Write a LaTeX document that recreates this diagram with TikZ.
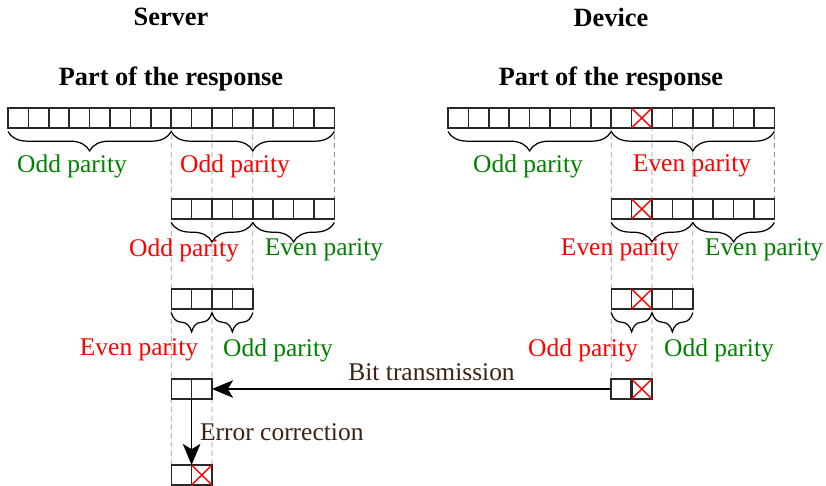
\documentclass[tikz,border=0pt]{standalone}
\usepackage{fontspec}
\setmainfont{Liberation Serif}
\usetikzlibrary{arrows.meta, decorations.pathreplacing, backgrounds}
\definecolor{parityGreen}{RGB}{0, 128, 0}
\definecolor{parityRed}{RGB}{255, 0, 0}
\definecolor{cellBorder}{RGB}{40, 40, 40}
\definecolor{guideGray}{RGB}{150, 150, 150}
\definecolor{noteBrown}{RGB}{59, 35, 20}

\begin{document}
\begin{tikzpicture}[
    x=0.02cm, y=-0.02cm,
    % Node styles
    cell/.style={
        rectangle,
        draw=cellBorder,
        line width=0.8pt,
        minimum width=0.408cm,
        minimum height=0.4cm,
        inner sep=0pt,
        outer sep=0pt
    },
    title/.style={
        font=\fontsize{15}{18}\selectfont\bfseries,
        text=black
    },
    parity/.style={
        font=\fontsize{14.5}{17}\selectfont
    },
    good/.style={parity, text=parityGreen},
    bad/.style={parity, text=parityRed},
    note/.style={
        font=\fontsize{14.5}{17}\selectfont,
        text=noteBrown
    },
    % Path styles
    cross/.style={
        draw=parityRed,
        line width=0.8pt
    },
    bracket/.style={
        decorate,
        decoration={brace, mirror, amplitude=11pt},
        line width=0.7pt
    },
    guide/.style={
        draw=guideGray,
        line width=0.5pt,
        dash pattern=on 3pt off 2pt
    },
    transfer/.style={
        -{Stealth[length=12pt, width=10pt, inset=3pt]},
        line width=1pt,
        color=black
    }
]

\useasboundingbox (0,0) rectangle (826,485);

% Titles
\node[title] (srvTitle) at (171,17) {Server};
\node[title] (devTitle) at (611,17) {Device};
\node[title] (srvPart) at (171,79) {Part of the response};
\node[title] (devPart) at (611,79) {Part of the response};

% Full responses
\foreach \i in {0,...,15} {
    \node[cell] (sa\i) at ({8+20.4*(\i+0.5)},118) {};
    \node[cell] (da\i) at ({448+20.4*(\i+0.5)},118) {};
}

% Halves
\foreach \i in {0,...,7} {
    \node[cell] (sb\i) at ({171.2+20.4*(\i+0.5)},209) {};
    \node[cell] (db\i) at ({611.2+20.4*(\i+0.5)},209) {};
}

% Quarters
\foreach \i in {0,...,3} {
    \node[cell] (sc\i) at ({171.2+20.4*(\i+0.5)},299) {};
    \node[cell] (dc\i) at ({611.2+20.4*(\i+0.5)},299) {};
}

% Last pairs
\node[cell] (sd0) at (181.4,389) {};
\node[cell] (sd1) at (201.8,389) {};
\node[cell, line width=1.3pt] (dd0) at (621.4,389) {};
\node[cell] (dd1) at (641.8,389) {};
\node[cell] (se0) at (181.4,475) {};
\node[cell] (se1) at (201.8,475) {};

% Flipped bits
\foreach \c in {da9, db1, dc1, dd1, se1} {
    \draw[cross] (\c.north west) -- (\c.south east) (\c.south west) -- (\c.north east);
}

% Guide lines
\begin{scope}[on background layer]
\draw[guide] (sa8.north west) -- (se0.south west);
\draw[guide] (sa10.north west) -- (se1.south east);
\draw[guide] (sa12.north west) -- (sc3.north east);
\draw[guide] (sa15.north east) -- (sb7.north east);
\draw[guide] (da8.north west) -- (dd0.south west);
\draw[guide] (da10.north west) -- (dd1.south east);
\draw[guide] (da12.north west) -- (dc3.north east);
\draw[guide] (da15.north east) -- (db7.north east);
\end{scope}

% Braces
\draw[bracket] ([yshift=-2pt]sa0.south west) -- ([yshift=-2pt]sa7.south east);
\draw[bracket] ([yshift=-2pt]sa8.south west) -- ([yshift=-2pt]sa15.south east);
\draw[bracket] ([yshift=-2pt]da0.south west) -- ([yshift=-2pt]da7.south east);
\draw[bracket] ([yshift=-2pt]da8.south west) -- ([yshift=-2pt]da15.south east);
\draw[bracket] ([yshift=-2pt]sb0.south west) -- ([yshift=-2pt]sb3.south east);
\draw[bracket] ([yshift=-2pt]sb4.south west) -- ([yshift=-2pt]sb7.south east);
\draw[bracket] ([yshift=-2pt]db0.south west) -- ([yshift=-2pt]db3.south east);
\draw[bracket] ([yshift=-2pt]db4.south west) -- ([yshift=-2pt]db7.south east);
\draw[bracket] ([yshift=-2pt]sc0.south west) -- ([yshift=-2pt]sc1.south east);
\draw[bracket] ([yshift=-2pt]sc2.south west) -- ([yshift=-2pt]sc3.south east);
\draw[bracket] ([yshift=-2pt]dc0.south west) -- ([yshift=-2pt]dc1.south east);
\draw[bracket] ([yshift=-2pt]dc2.south west) -- ([yshift=-2pt]dc3.south east);

% Parity labels
\node[good] (sa1L) at (72,166) {Odd parity};
\node[bad] (sa2L) at (235,166) {Odd parity};
\node[good] (da1L) at (528,166) {Odd parity};
\node[bad] (da2L) at (692,166) {Even parity};
\node[bad] (sb1L) at (184,250) {Odd parity};
\node[good] (sb2L) at (324,250) {Even parity};
\node[bad] (db1L) at (620,250) {Even parity};
\node[good] (db2L) at (764,250) {Even parity};
\node[bad] (sc1L) at (139,350) {Even parity};
\node[good] (sc2L) at (278,350) {Odd parity};
\node[bad] (dc1L) at (583,350) {Odd parity};
\node[good] (dc2L) at (719,350) {Odd parity};

% Arrows
\draw[transfer] (dd0.west) -- (sd1.east) node[note, pos=0.45, above=1pt] {Bit transmission};
\draw[transfer] (sd0.south east) -- (se0.north east) node[note, midway, right=1pt] {Error correction};

\end{tikzpicture}
\end{document}
